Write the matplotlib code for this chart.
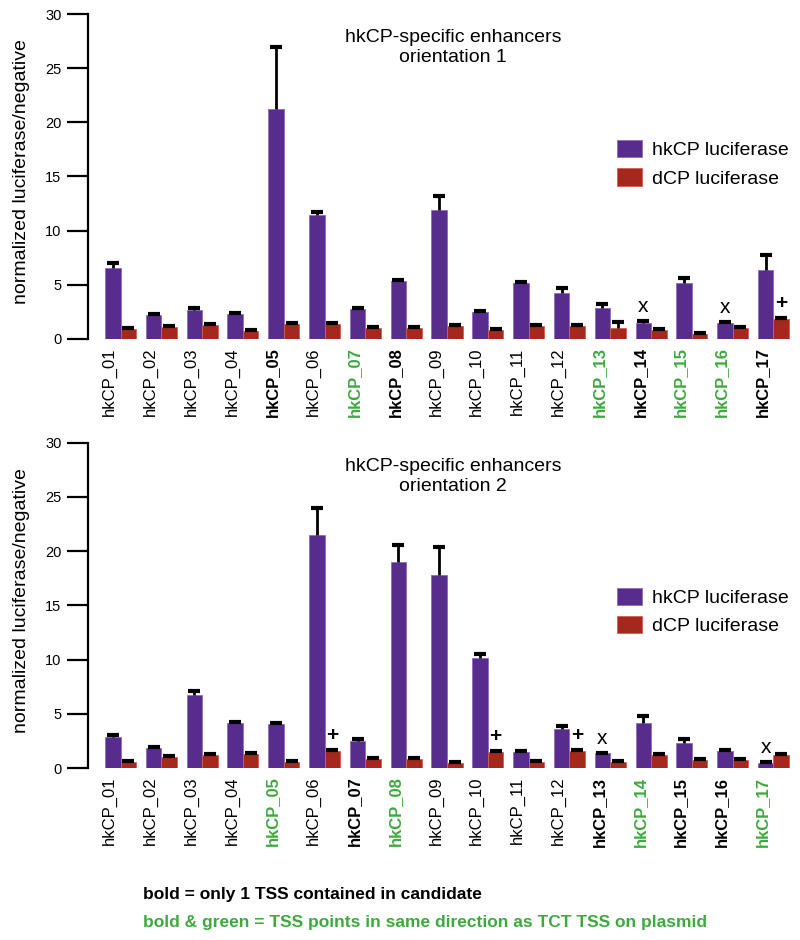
import numpy as np
import matplotlib
matplotlib.use("Agg")
import matplotlib.pyplot as plt

plt.rcParams['font.family'] = ['Liberation Sans', 'DejaVu Sans']

# noms des candidats
labels = ["hkCP_01", "hkCP_02", "hkCP_03", "hkCP_04", "hkCP_05", "hkCP_06",
          "hkCP_07", "hkCP_08", "hkCP_09", "hkCP_10", "hkCP_11", "hkCP_12",
          "hkCP_13", "hkCP_14", "hkCP_15", "hkCP_16", "hkCP_17"]

# orientation 1
top_hk = [6.55, 2.2, 2.68, 2.28, 21.2, 11.4, 2.77, 5.35, 11.9, 2.46, 5.14, 4.28,
          2.83, 1.5, 5.2, 1.5, 6.37]
top_hk_err = [0.45, 0.15, 0.15, 0.1, 5.75, 0.3, 0.1, 0.08, 1.3, 0.1, 0.15, 0.45,
              0.4, 0.12, 0.45, 0.08, 1.4]
top_dcp = [0.9, 1.1, 1.3, 0.75, 1.35, 1.35, 1.0, 1.05, 1.2, 0.83, 1.2, 1.2,
           1.0, 0.83, 0.43, 1.05, 1.82]
top_dcp_err = [0.08, 0.08, 0.08, 0.08, 0.08, 0.08, 0.08, 0.08, 0.08, 0.08, 0.08, 0.08,
               0.55, 0.08, 0.08, 0.08, 0.08]
top_bold = ["hkCP_05", "hkCP_08", "hkCP_14", "hkCP_17"]
top_green = ["hkCP_07", "hkCP_13", "hkCP_15", "hkCP_16"]
top_marks = [("hkCP_14", "x", "hk"), ("hkCP_16", "x", "hk"), ("hkCP_17", "+", "dcp")]

# orientation 2
bot_hk = [2.92, 1.84, 6.73, 4.15, 4.06, 21.5, 2.52, 18.96, 17.8, 10.14, 1.47, 3.6,
          1.38, 4.15, 2.37, 1.6, 0.52]
bot_hk_err = [0.15, 0.12, 0.4, 0.12, 0.12, 2.5, 0.15, 1.65, 2.6, 0.4, 0.12, 0.3,
              0.06, 0.7, 0.35, 0.06, 0.06]
bot_dcp = [0.61, 1.08, 1.23, 1.32, 0.61, 1.6, 0.83, 0.83, 0.46, 1.54, 0.55, 1.63,
           0.61, 1.23, 0.77, 0.77, 1.23]
bot_dcp_err = [0.08] * 17
bot_bold = ["hkCP_07", "hkCP_13", "hkCP_15", "hkCP_16"]
bot_green = ["hkCP_05", "hkCP_08", "hkCP_14", "hkCP_17"]
bot_marks = [("hkCP_06", "+", "dcp"), ("hkCP_10", "+", "dcp"), ("hkCP_12", "+", "dcp"),
             ("hkCP_13", "x", "hk"), ("hkCP_17", "x", "hk")]

violet = "#582C8C"
rouge = "#A5281E"
vert = "#3DAA3D"
bw = 0.38


def panneau(ax, hk, hk_err, dcp, dcp_err, bold, green, marks, titre, leg_y):
    x = np.arange(len(labels))
    xh = x - bw / 2
    xd = x + bw / 2
    ax.bar(xh, hk, bw, color=violet, edgecolor="#8C6CC0", linewidth=0.6, label="hkCP luciferase")
    ax.bar(xd, dcp, bw, color=rouge, edgecolor="#D0604F", linewidth=0.6, label="dCP luciferase")
    # barres d'erreur vers le haut seulement
    for xx, v, e in [(xh, hk, hk_err), (xd, dcp, dcp_err)]:
        v = np.array(v)
        e = np.array(e)
        ax.vlines(xx, v, v + e, color="black", linewidth=2)
        ax.plot(xx, v + e, linestyle="none", marker="_", markersize=9, markeredgewidth=3, color="black")
    for nom, sym, serie in marks:
        i = labels.index(nom)
        if serie == "hk":
            xx, yy = xh[i], hk[i] + hk_err[i]
        else:
            xx, yy = xd[i], dcp[i] + dcp_err[i]
        ax.annotate(sym, (xx, yy), xytext=(0, 10.5), textcoords="offset points",
                    ha="center", va="center", fontsize=15,
                    fontweight="bold" if sym == "+" else "normal")
    ax.set_xlim(-0.797, 16.65)
    ax.set_ylim(0, 30)
    ax.set_yticks([0, 5, 10, 15, 20, 25, 30])
    ax.set_xticks(x - 0.27)
    ax.set_xticklabels(labels, rotation=90, fontsize=12, va="top", ha="center")
    for t in ax.get_xticklabels():
        nom = t.get_text()
        if nom in bold:
            t.set_fontweight("bold")
        if nom in green:
            t.set_fontweight("bold")
            t.set_color(vert)
    ax.tick_params(axis="x", length=0, pad=6)
    ax.tick_params(axis="y", length=15, width=1.6, labelsize=10.5, pad=4)
    for s in ["top", "right", "bottom"]:
        ax.spines[s].set_visible(False)
    ax.spines["left"].set_linewidth(1.6)
    ax.set_ylabel("normalized luciferase/negative", fontsize=14)
    ax.yaxis.set_label_coords(-0.082, 0.515)
    ax.text(0.513, 0.897, titre, transform=ax.transAxes, ha="center", va="center",
            fontsize=14, linespacing=1.25)
    ax.legend(loc="upper left", bbox_to_anchor=(0.743, leg_y), frameon=False,
              fontsize=14, handlelength=1.3, handleheight=1.0, labelspacing=0.45,
              handletextpad=0.5, borderpad=0, borderaxespad=0)


fig = plt.figure(figsize=(8, 9.4), dpi=100)
ax1 = fig.add_axes([88 / 800, 0.6394, 712 / 800, 0.3457])
ax2 = fig.add_axes([88 / 800, 0.1827, 712 / 800, 0.3464])

panneau(ax1, top_hk, top_hk_err, top_dcp, top_dcp_err, top_bold, top_green, top_marks,
        "hkCP-specific enhancers\norientation 1", 0.612)
panneau(ax2, bot_hk, bot_hk_err, bot_dcp, bot_dcp_err, bot_bold, bot_green, bot_marks,
        "hkCP-specific enhancers\norientation 2", 0.555)

fig.text(143 / 800, 1 - 895 / 940, "bold = only 1 TSS contained in candidate",
         fontsize=12.5, fontweight="bold", va="center", ha="left")
fig.text(143 / 800, 1 - 922 / 940, "bold & green = TSS points in same direction as TCT TSS on plasmid",
         fontsize=12.5, fontweight="bold", color=vert, va="center", ha="left")

plt.savefig("out.png", dpi=100)
